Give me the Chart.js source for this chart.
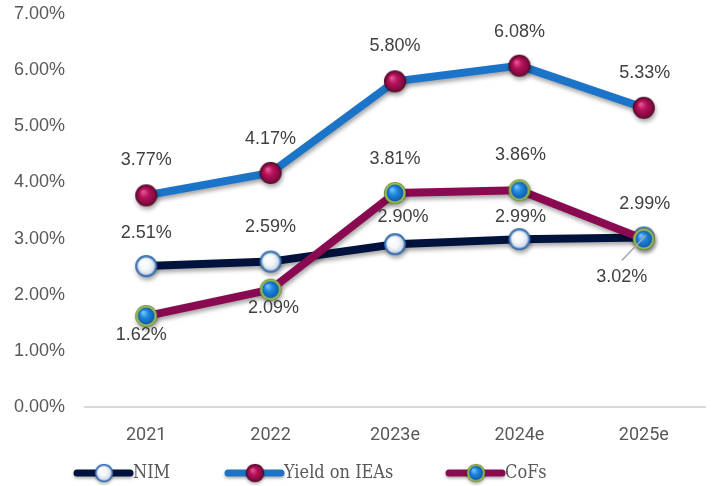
<!DOCTYPE html>
<html>
<head>
<meta charset="utf-8">
<script src="https://cdn.jsdelivr.net/npm/chart.js@4.4.1/dist/chart.umd.min.js"></script>
<style>
  html, body { margin: 0; padding: 0; background: #fff; }
  #wrap { width: 716px; height: 486px; }
</style>
</head>
<body>
<div id="wrap"><canvas id="chart"></canvas></div>
<script>
const categories = ['2021', '2022', '2023e', '2024e', '2025e'];
const nim = [2.51, 2.59, 2.90, 2.99, 3.02];
const yieldOnIeas = [3.77, 4.17, 5.80, 6.08, 5.33];
const cofs = [1.62, 2.09, 3.81, 3.86, 2.99];
const yMin = 0, yMax = 7, yStep = 1;

// where each value label sits relative to its point [dx, dy, leader line]
const nimLabelPos = [[0, -33], [0, -35], [8, -27], [1, -22], [-22, 40, true]];
const yieldLabelPos = [[0, -35], [0, -34], [0, -35], [0, -34], [1, -35]];
const cofsLabelPos = [[-5, 19], [3, 18], [0, -34], [1, -35], [1, -35]];

// little shaded balls used as point markers
function makeMarker(r, ring, ringColor, stops, edge) {
  const size = Math.ceil((r + 1) * 2);
  const cv = document.createElement('canvas');
  cv.width = size; cv.height = size;
  const c = cv.getContext('2d');
  const m = size / 2;
  c.beginPath();
  c.arc(m, m, r, 0, Math.PI * 2);
  c.fillStyle = edge || ringColor;
  c.fill();
  c.beginPath();
  c.arc(m, m, r - 0.8, 0, Math.PI * 2);
  c.fillStyle = ringColor;
  c.fill();
  const g = c.createRadialGradient(m - r * 0.3, m - r * 0.35, 0.5, m, m, r - ring);
  stops.forEach(s => g.addColorStop(s[0], s[1]));
  c.beginPath();
  c.arc(m, m, r - ring, 0, Math.PI * 2);
  c.fillStyle = g;
  c.fill();
  return cv;
}

const nimMarker = makeMarker(11, 2.2, '#4a7fbf', [[0, '#ffffff'], [0.6, '#f4f6fa'], [1, '#c9d4e3']], '#2e5f9e');
const yieldMarker = makeMarker(11, 1.6, '#6e0b38', [[0, '#e45a96'], [0.45, '#b8125a'], [1, '#7c0a3c']], '#4d0627');
const cofsMarker = makeMarker(11, 2.6, '#9dbd5a', [[0, '#7cc6ff'], [0.45, '#1f88e0'], [1, '#0d5ba8']], '#6b8a32');

const shadowPlugin = {
  id: 'shadow',
  beforeDatasetDraw(chart) {
    const c = chart.ctx;
    c.save();
    c.shadowColor = 'rgba(0,0,0,0.35)';
    c.shadowBlur = 4;
    c.shadowOffsetX = 1;
    c.shadowOffsetY = 3;
  },
  afterDatasetDraw(chart) {
    chart.ctx.restore();
  }
};

const valueLabels = {
  id: 'valueLabels',
  afterDatasetsDraw(chart) {
    const c = chart.ctx;
    c.save();
    c.font = '18px "Liberation Sans", Arial, sans-serif';
    c.fillStyle = '#404040';
    c.textAlign = 'center';
    c.textBaseline = 'middle';
    chart.data.datasets.forEach((ds, i) => {
      const meta = chart.getDatasetMeta(i);
      meta.data.forEach((pt, j) => {
        const pos = ds.labelPos[j];
        const x = pt.x + pos[0], y = pt.y + pos[1];
        if (pos[2]) {
          c.strokeStyle = '#a6a6a6';
          c.lineWidth = 1.5;
          c.beginPath();
          c.moveTo(x, y - 17);
          c.lineTo(pt.x + 2, pt.y - 2);
          c.stroke();
        }
        c.fillText(ds.data[j].toFixed(2) + '%', x, y);
      });
    });
    c.restore();
  }
};

const lineLegend = {
  id: 'lineLegend',
  afterDraw(chart) {
    const c = chart.ctx;
    const y = 473;
    const starts = [77, 228, 449];
    c.save();
    c.font = '18px "DejaVu Serif Condensed", "DejaVu Serif", serif';
    c.textBaseline = 'middle';
    chart.data.datasets.forEach((ds, i) => {
      const x0 = starts[i];
      c.save();
      c.shadowColor = 'rgba(0,0,0,0.3)';
      c.shadowBlur = 3;
      c.shadowOffsetY = 2;
      c.strokeStyle = ds.borderColor;
      c.lineWidth = 7;
      c.lineCap = 'round';
      c.beginPath();
      c.moveTo(x0, y);
      c.lineTo(x0 + 53, y);
      c.stroke();
      c.drawImage(ds.pointStyle, x0 + 17, y - 10, 20, 20);
      c.restore();
      c.fillStyle = '#595959';
      c.fillText(ds.label, x0 + 56, y);
    });
    c.restore();
  }
};

new Chart(document.getElementById('chart'), {
  type: 'line',
  data: {
    labels: categories,
    datasets: [
      {
        label: 'NIM',
        data: nim,
        borderColor: '#01133d',
        borderWidth: 8,
        pointStyle: nimMarker,
        labelPos: nimLabelPos,
        order: 2
      },
      {
        label: 'Yield on IEAs',
        data: yieldOnIeas,
        borderColor: '#1c74c8',
        borderWidth: 8,
        pointStyle: yieldMarker,
        labelPos: yieldLabelPos,
        order: 1
      },
      {
        label: 'CoFs',
        data: cofs,
        borderColor: '#8a0a52',
        borderWidth: 8,
        pointStyle: cofsMarker,
        labelPos: cofsLabelPos,
        order: 0
      }
    ]
  },
  options: {
    responsive: true,
    maintainAspectRatio: false,
    animation: false,
    events: [],
    clip: false,
    layout: {
      autoPadding: false,
      padding: {top: 0, right: 10, bottom: 0, left: 0}
    },
    elements: {
      line: {tension: 0, borderCapStyle: 'round', borderJoinStyle: 'round'},
      point: {radius: 11}
    },
    plugins: {
      legend: {display: false},
      tooltip: {enabled: false}
    },
    scales: {
      x: {
        offset: true,
        grid: {display: false},
        border: {display: false},
        ticks: {
          color: '#595959',
          padding: 10,
          font: {family: 'Roboto, sans-serif', size: 18}
        },
        afterFit(scale) { scale.height = 79; }
      },
      y: {
        min: yMin,
        max: yMax,
        border: {display: false},
        grid: {
          drawTicks: false,
          lineWidth: 2,
          color: ctx => ctx.tick && ctx.tick.value === 0 ? '#d9d9d9' : 'rgba(0,0,0,0)'
        },
        ticks: {
          stepSize: yStep,
          color: '#595959',
          padding: 19,
          font: {family: '"Liberation Sans", Arial, sans-serif', size: 18},
          callback: v => v.toFixed(2) + '%'
        },
        afterFit(scale) {
          scale.width = 84;
          scale.paddingTop = 14;
          scale.paddingBottom = 0;
        }
      }
    }
  },
  plugins: [shadowPlugin, valueLabels, lineLegend]
});
</script>
</body>
</html>
